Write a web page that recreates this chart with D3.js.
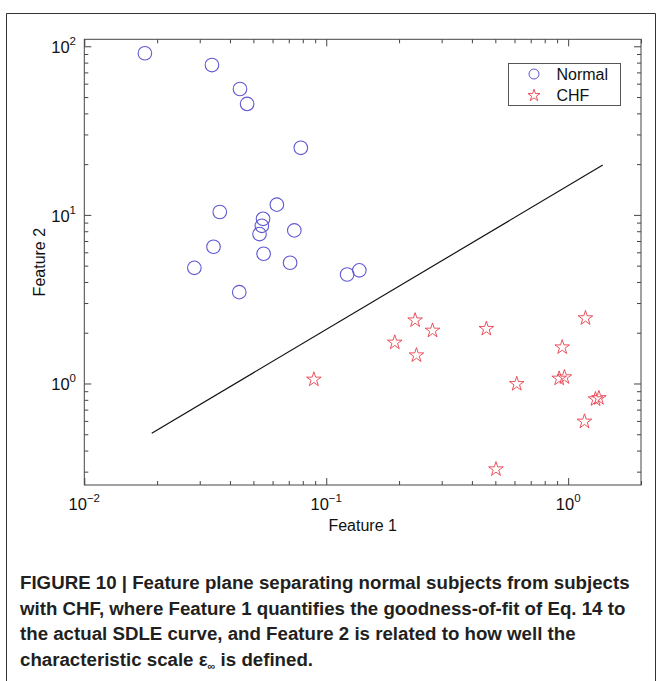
<!DOCTYPE html>
<html>
<head>
<meta charset="utf-8">
<script src="https://cdn.jsdelivr.net/npm/d3@7"></script>
<style>
  body { margin: 0; background: #fff; }
  svg { display: block; }
</style>
</head>
<body>
<svg id="chart"></svg>
<script>
// Data
const normalF1 = [0.0178, 0.0337, 0.0440, 0.0471, 0.0785, 0.0625, 0.0363, 0.0548, 0.0542, 0.0530, 0.0738, 0.0342, 0.0551, 0.0285, 0.0709, 0.0437, 0.122, 0.137];
const normalF2 = [90.9, 77.4, 55.8, 45.5, 25.0, 11.5, 10.4, 9.48, 8.61, 7.69, 8.09, 6.47, 5.88, 4.85, 5.20, 3.48, 4.43, 4.69];
const chfF1 = [0.233, 0.275, 0.459, 1.179, 0.192, 0.236, 0.945, 0.0889, 0.613, 0.918, 0.965, 1.297, 1.34, 1.168, 0.503];
const chfF2 = [2.37, 2.06, 2.11, 2.44, 1.75, 1.47, 1.64, 1.056, 0.994, 1.07, 1.09, 0.807, 0.82, 0.595, 0.310];
const lineF1 = [0.019, 1.39];
const lineF2 = [0.507, 19.75];
const xMajorTicks = [0.01, 0.1, 1];
const xTickExp = ["\u22122", "\u22121", "0"];
const yMajorTicks = [1, 10, 100];
const yTickExp = ["0", "1", "2"];
const legendLabels = ["Normal", "CHF"];
const captionLines = [
    "FIGURE 10 | Feature plane separating normal subjects from subjects",
    "with CHF, where Feature 1 quantifies the goodness-of-fit of Eq. 14 to",
    "the actual SDLE curve, and Feature 2 is related to how well the"
];

const width = 661;
const height = 681;

// plot box
const plot = { left: 84.3, right: 641, top: 39.3, bottom: 485 };

const svg = d3.select('#chart')
    .attr('width', width)
    .attr('height', height);

// outer frame of the figure
svg.append('path')
    .attr('d', `M6.5,${height} V13.5 H655.5 V${height}`)
    .attr('fill', 'none')
    .attr('stroke', '#333')
    .attr('stroke-width', 1);

// scales
const xScale = d3.scaleLog().domain([0.01, 2]).range([plot.left, plot.right]);
const yScale = d3.scaleLog().domain([0.25, 110]).range([plot.bottom, plot.top]);

// minor ticks
function minorTicks(lo, hi) {
    const out = [];
    for (let e = -3; e <= 3; e++) {
        for (let m = 2; m <= 9; m++) {
            const v = m * Math.pow(10, e);
            if (v >= lo && v <= hi) out.push(v);
        }
    }
    return out;
}
const xMinor = minorTicks(0.01, 2);
const yMinor = minorTicks(0.25, 110);

const axisColor = '#444';
const plotW = plot.right - plot.left;
const plotH = plot.bottom - plot.top;

function drawAxis(axis, tx, ty) {
    const g = svg.append('g')
        .attr('transform', `translate(${tx},${ty})`)
        .call(axis);
    g.select('.domain').remove();
    g.selectAll('line').attr('stroke', axisColor).attr('stroke-width', 1);
    return g;
}

// inward ticks on all four sides
[[xMajorTicks, 7], [xMinor, 4]].forEach(([vals, len]) => {
    drawAxis(d3.axisBottom(xScale).tickValues(vals).tickSize(-len).tickFormat(''), 0, plot.bottom);
    drawAxis(d3.axisTop(xScale).tickValues(vals).tickSize(-len).tickFormat(''), 0, plot.top);
});
[[yMajorTicks, 7], [yMinor, 4]].forEach(([vals, len]) => {
    drawAxis(d3.axisLeft(yScale).tickValues(vals).tickSize(-len).tickFormat(''), plot.left, 0);
    drawAxis(d3.axisRight(yScale).tickValues(vals).tickSize(-len).tickFormat(''), plot.right, 0);
});

// box
svg.append('rect')
    .attr('x', plot.left)
    .attr('y', plot.top)
    .attr('width', plotW)
    .attr('height', plotH)
    .attr('fill', 'none')
    .attr('stroke', axisColor)
    .attr('stroke-width', 1);

const font = "Liberation Sans, Arial, Helvetica, sans-serif";

// x tick labels: 10 with superscript
xMajorTicks.forEach((v, i) => {
    const t = svg.append('text')
        .attr('x', xScale(v))
        .attr('y', 510)
        .attr('text-anchor', 'middle')
        .style('font-family', font)
        .style('font-size', '16.5px')
        .style('fill', '#111');
    t.append('tspan').text('10');
    t.append('tspan')
        .attr('dy', -8)
        .style('font-size', '11.5px')
        .text(xTickExp[i]);
});

// y tick labels
yMajorTicks.forEach((v, i) => {
    const t = svg.append('text')
        .attr('x', 76)
        .attr('y', yScale(v) + 7)
        .attr('text-anchor', 'end')
        .style('font-family', font)
        .style('font-size', '16.5px')
        .style('fill', '#111');
    t.append('tspan').text('10');
    t.append('tspan')
        .attr('dy', -8)
        .style('font-size', '11.5px')
        .text(yTickExp[i]);
});

// axis labels
svg.append('text')
    .attr('x', (plot.left + plot.right) / 2)
    .attr('y', 531)
    .attr('text-anchor', 'middle')
    .style('font-family', font)
    .style('font-size', '16px')
    .style('fill', '#111')
    .text('Feature 1');

svg.append('text')
    .attr('transform', `translate(45,${(plot.top + plot.bottom) / 2}) rotate(-90)`)
    .attr('text-anchor', 'middle')
    .style('font-family', font)
    .style('font-size', '16px')
    .style('fill', '#111')
    .text('Feature 2');

// separating line
svg.append('line')
    .attr('x1', xScale(lineF1[0]))
    .attr('y1', yScale(lineF2[0]))
    .attr('x2', xScale(lineF1[1]))
    .attr('y2', yScale(lineF2[1]))
    .attr('stroke', '#111')
    .attr('stroke-width', 1.2);

// markers
const blue = '#5f58d2';
const red = '#e5404c';
const star = d3.symbol().type(d3.symbolStar).size(66);

svg.append('g').selectAll('circle')
    .data(normalF1.map((d, i) => [d, normalF2[i]]))
    .join('circle')
    .attr('cx', d => xScale(d[0]))
    .attr('cy', d => yScale(d[1]))
    .attr('r', 6.8)
    .attr('fill', 'none')
    .attr('stroke', blue)
    .attr('stroke-width', 1.1);

svg.append('g').selectAll('path')
    .data(chfF1.map((d, i) => [d, chfF2[i]]))
    .join('path')
    .attr('d', star)
    .attr('transform', d => `translate(${xScale(d[0])},${yScale(d[1])})`)
    .attr('fill', 'none')
    .attr('stroke', red)
    .attr('stroke-width', 0.9);

// legend
const legend = svg.append('g').attr('transform', 'translate(508.5,63.5)');
legend.append('rect')
    .attr('width', 112)
    .attr('height', 42)
    .attr('fill', '#fff')
    .attr('stroke', '#555')
    .attr('stroke-width', 1);
legend.append('circle')
    .attr('cx', 25.5).attr('cy', 10.5).attr('r', 5)
    .attr('fill', 'none').attr('stroke', blue).attr('stroke-width', 1);
legend.append('path')
    .attr('d', d3.symbol().type(d3.symbolStar).size(45)())
    .attr('transform', 'translate(25.5,32)')
    .attr('fill', 'none').attr('stroke', red).attr('stroke-width', 0.9);
legendLabels.forEach((lbl, i) => {
    legend.append('text')
        .attr('x', 48)
        .attr('y', 16 + i * 21)
        .style('font-family', font)
        .style('font-size', '16px')
        .style('fill', '#111')
        .text(lbl);
});

// caption
const capFont = "'Liberation Sans Narrow', 'Arial Narrow', 'Liberation Sans', sans-serif";
const capSize = '18.7px';
const capBase = [589, 615, 640, 666];
captionLines.forEach((line, i) => {
    svg.append('text')
        .attr('x', 20)
        .attr('y', capBase[i])
        .style('font-family', capFont)
        .style('font-weight', 'bold')
        .style('font-size', capSize)
        .style('fill', '#231f20')
        .text(line);
});
const last = svg.append('text')
    .attr('x', 20)
    .attr('y', capBase[3])
    .style('font-family', capFont)
    .style('font-weight', 'bold')
    .style('font-size', capSize)
    .style('fill', '#231f20');
last.append('tspan').text('characteristic scale \u03b5');
last.append('tspan').attr('dy', 4).style('font-size', '11px').text('\u221e');
last.append('tspan').attr('dy', -4).text(' is defined.');
</script>
</body>
</html>
